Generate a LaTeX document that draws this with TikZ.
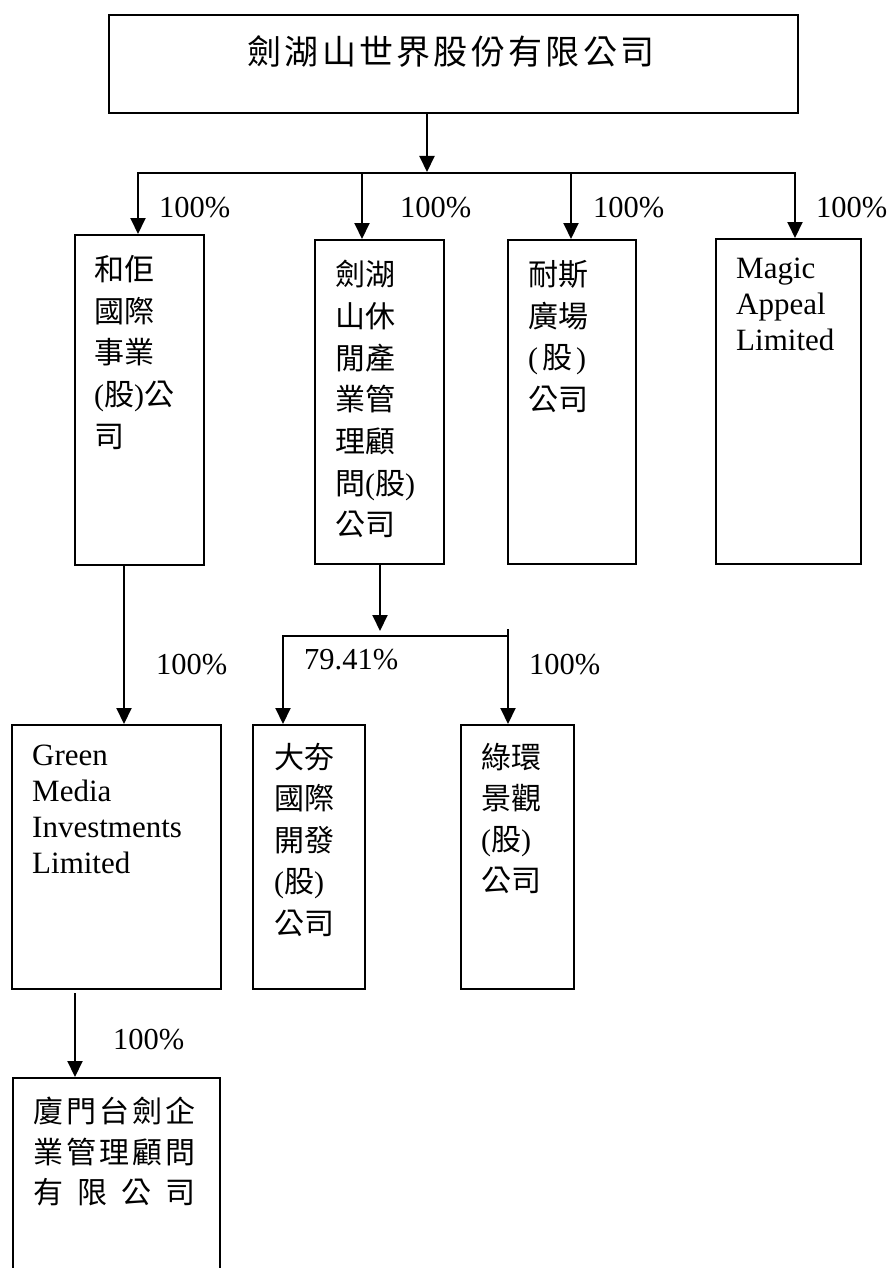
\documentclass[tikz,border=0pt]{standalone}
\usepackage{fontspec}
\setmainfont{Liberation Serif}
\newfontfamily\cjkfont{Noto Sans CJK TC}
\newcommand\zhL{{\rmfamily(}}
\newcommand\zhR{{\rmfamily)}}
\usetikzlibrary{arrows.meta}
\begin{document}
\begin{tikzpicture}[x=1pt,y=-1pt,
  box/.style={draw, line width=2pt, inner sep=0pt, anchor=north west},
  arr/.style={line width=2pt, -{Triangle[length=16pt,width=15pt]}},
  wire/.style={line width=2pt, line cap=rect},
  zh/.style={inner sep=0pt, anchor=north west, align=left, font=\fontsize{30}{41.7}\selectfont\cjkfont},
  en/.style={inner sep=0pt, anchor=north west, align=left, font=\fontsize{31}{36}\selectfont},
  pct/.style={inner sep=0pt, anchor=west, font=\fontsize{30.5}{36}\selectfont}]
\useasboundingbox (0,0) rectangle (889,1268);

% boxes
\node[box, minimum width=689pt, minimum height=98pt] (top) at (108,14) {};
\node[box, minimum width=129pt, minimum height=330pt] (b1) at (74,234) {};
\node[box, minimum width=129pt, minimum height=324pt] (b2) at (314,239) {};
\node[box, minimum width=128pt, minimum height=324pt] (b3) at (507,239) {};
\node[box, minimum width=145pt, minimum height=325pt] (b4) at (715,238) {};
\node[box, minimum width=209pt, minimum height=264pt] (gm) at (11,724) {};
\node[box, minimum width=112pt, minimum height=264pt] (dh) at (252,724) {};
\node[box, minimum width=113pt, minimum height=264pt] (lh) at (460,724) {};
\node[box, minimum width=207pt, minimum height=200pt] (xm) at (12,1077) {};

% texts
\node[inner sep=0pt, anchor=north, font=\fontsize{34}{40}\selectfont\cjkfont] (ttop) at (451,35)
  {\makebox[407pt][s]{劍\hfill 湖\hfill 山\hfill 世\hfill 界\hfill 股\hfill 份\hfill 有\hfill 限\hfill 公\hfill 司}};
\node[zh] (t1) at (94,255) {和佢\\國際\\事業\\\zhL 股\zhR 公\\司};
\node[zh] (t2) at (335,260) {劍湖\\山休\\閒產\\業管\\理顧\\問\zhL 股\zhR\\公司};
\node[zh] (t3) at (528,260) {耐斯\\廣場\\\zhL\hspace{4pt}股\hspace{4pt}\zhR\\公司};
\node[en] (t4) at (736,258) {Magic\\Appeal\\Limited};
\node[en] (tgm) at (32,745) {Green\\Media\\Investments\\Limited};
\node[zh, font=\fontsize{30}{41.5}\selectfont\cjkfont] (tdh) at (274,743) {大夯\\國際\\開發\\\zhL 股\zhR\\公司};
\node[zh, font=\fontsize{30}{41}\selectfont\cjkfont] (tlh) at (481,743) {綠環\\景觀\\\zhL 股\zhR\\公司};
\node[zh, font=\fontsize{30}{40.5}\selectfont\cjkfont] (txm) at (33,1097)
  {\makebox[162pt][s]{廈\hfill 門\hfill 台\hfill 劍\hfill 企}\\
   \makebox[162pt][s]{業\hfill 管\hfill 理\hfill 顧\hfill 問}\\
   \makebox[162pt][s]{有\hfill 限\hfill 公\hfill 司}};

% connectors level 1
\coordinate (j0) at (427,172);
\draw[arr] (top.south -| j0) -- (j0);
\coordinate (hL) at (138,173);
\coordinate (h2) at (362,173);
\coordinate (h3) at (571,173);
\coordinate (hR) at (795,173);
\draw[wire] (hL) -- (hR);
\draw[arr] (hL) -- (b1.north -| hL);
\draw[arr] (h2) -- (b2.north -| h2);
\draw[arr] (h3) -- (b3.north -| h3);
\draw[arr] (hR) -- (b4.north -| hR);

% b1 -> gm
\coordinate (c1) at (124,600);
\draw[arr] (b1.south -| c1) -- (gm.north -| c1);

% b2 -> dh, lh
\coordinate (j2) at (380,631);
\draw[arr] (b2.south -| j2) -- (j2);
\coordinate (kL) at (283,636);
\coordinate (kR) at (508,636);
\draw[wire] (kL) -- (kR);
\coordinate (kRt) at (508,629);
\draw[arr] (kRt) -- (lh.north -| kRt);
\draw[arr] (kL) -- (dh.north -| kL);

% gm -> xm
\coordinate (g0) at (75,993);
\draw[arr] (g0) -- (xm.north -| g0);

% labels
\node[pct] (p1) at (159,208) {100\%};
\node[pct] (p2) at (400,208) {100\%};
\node[pct] (p3) at (593,208) {100\%};
\node[pct] (p4) at (816,208) {100\%};
\node[pct] (p5) at (156,665) {100\%};
\node[pct] (p6) at (304,660) {79.41\%};
\node[pct] (p7) at (529,665) {100\%};
\node[pct] (p8) at (113,1040) {100\%};
\end{tikzpicture}
\end{document}
